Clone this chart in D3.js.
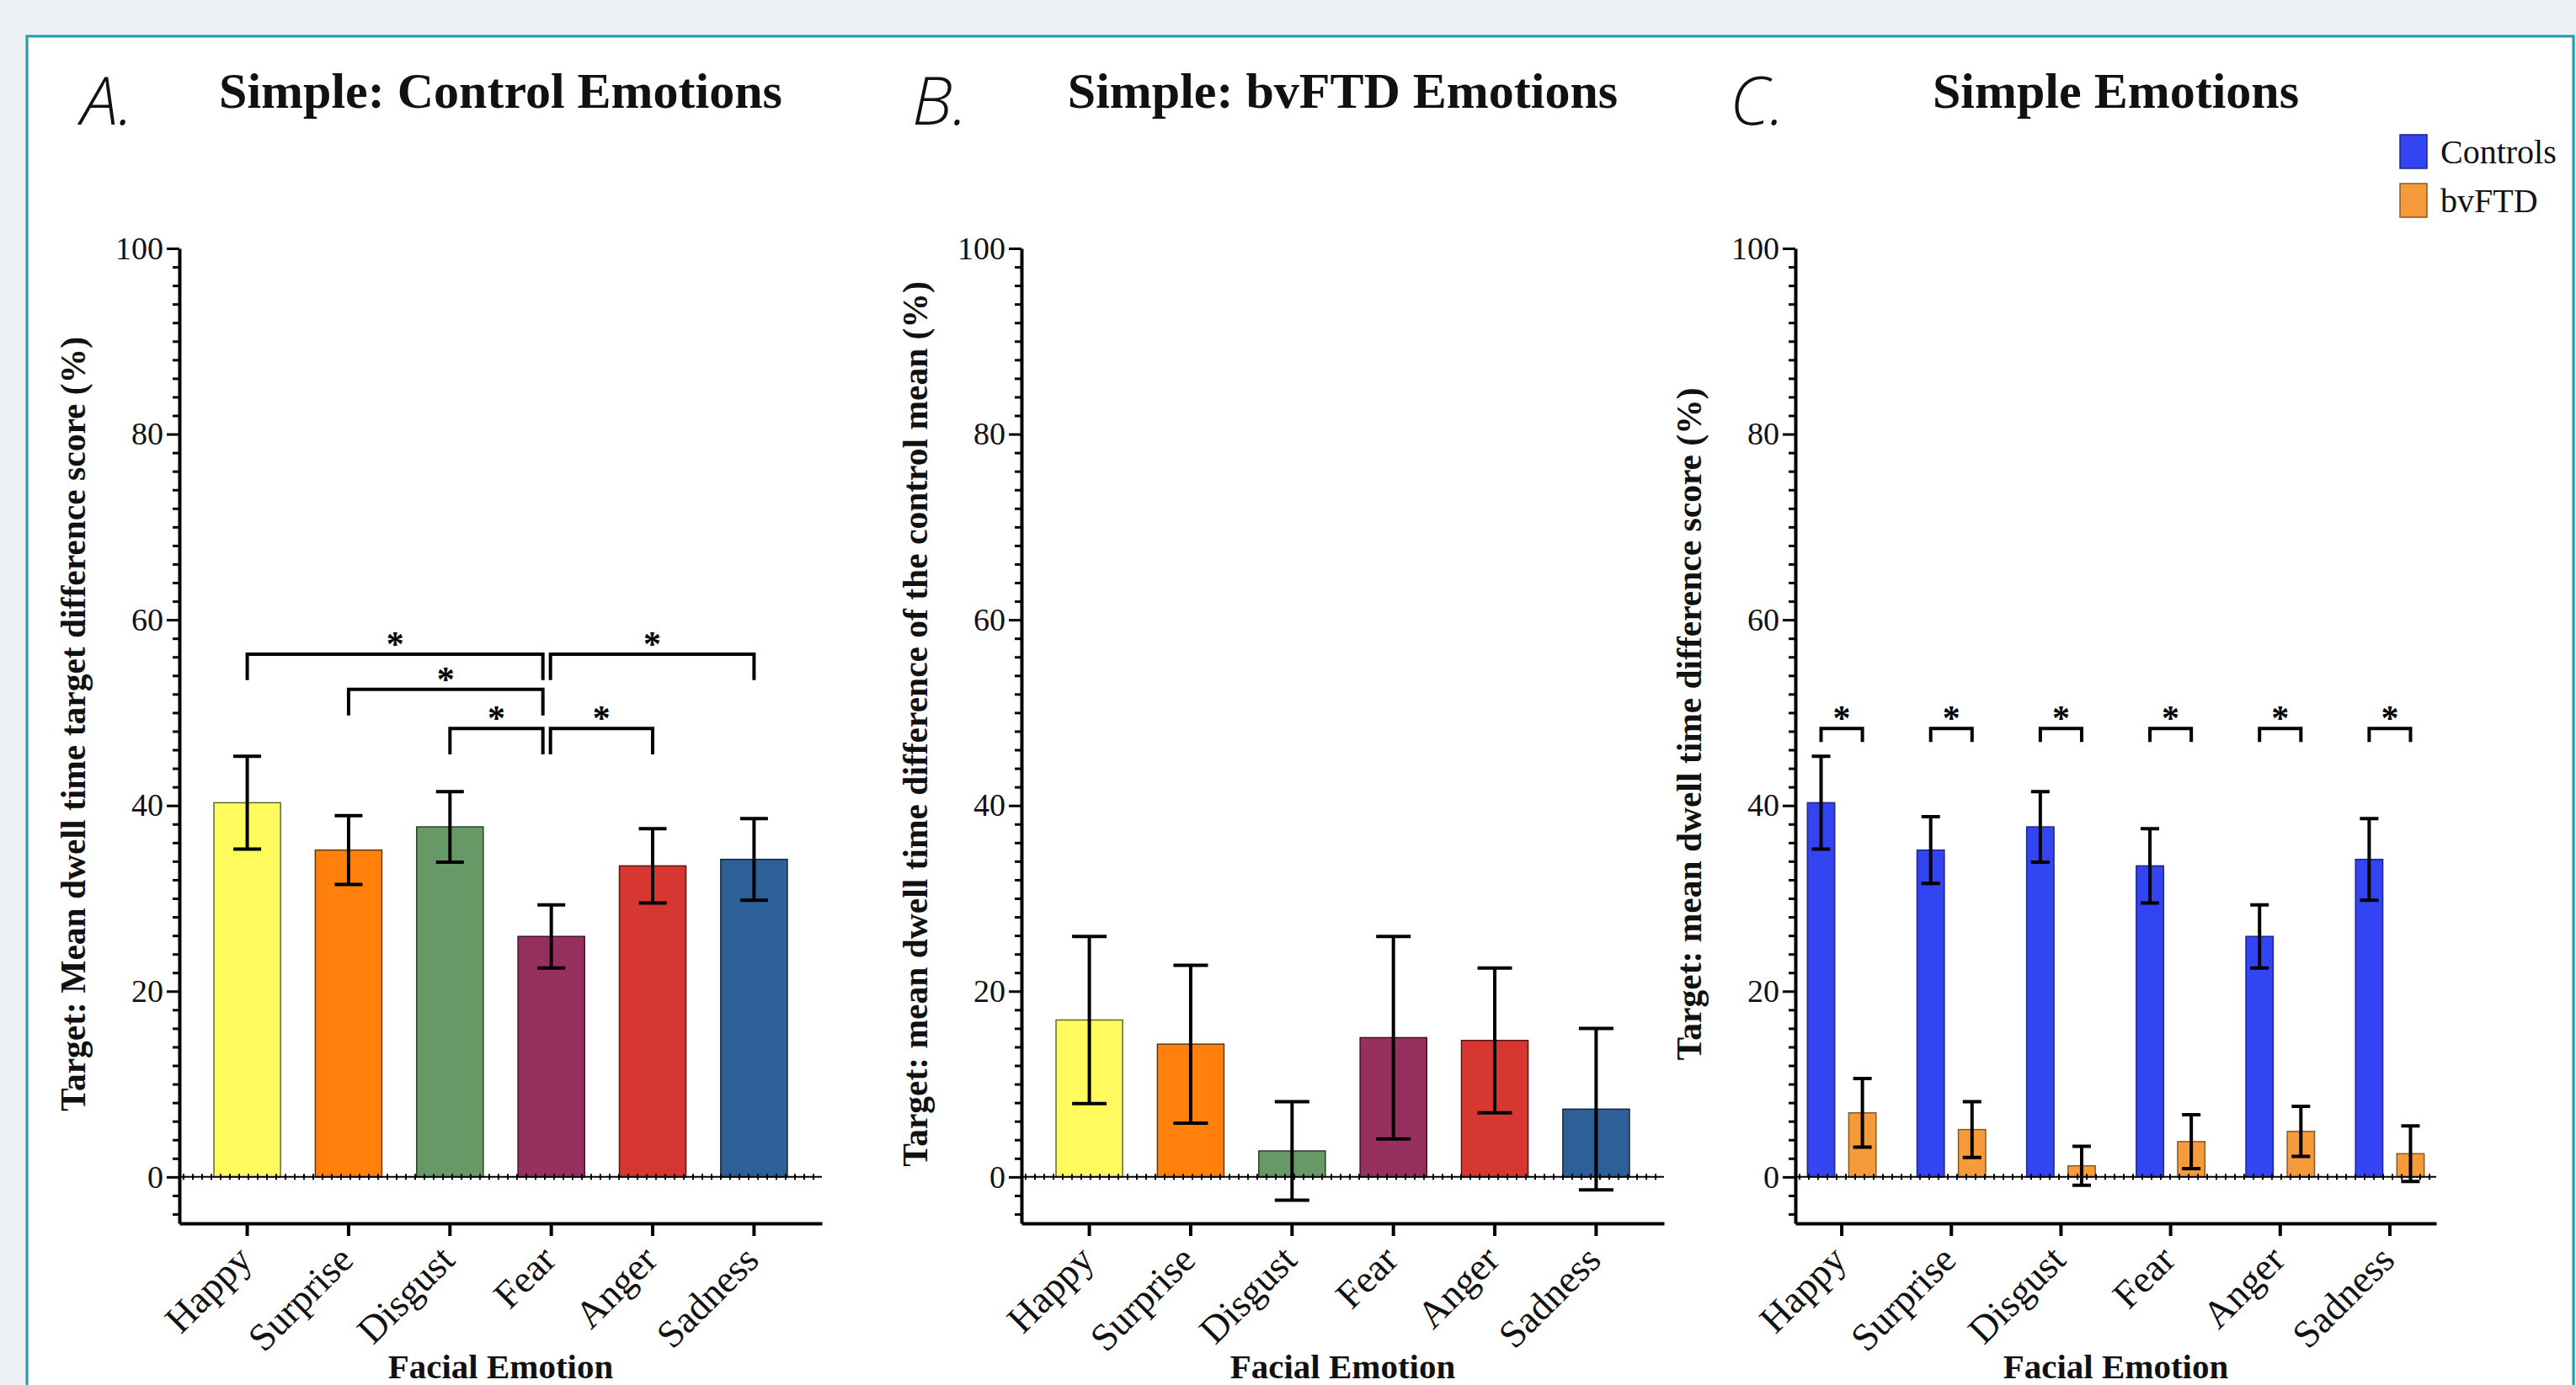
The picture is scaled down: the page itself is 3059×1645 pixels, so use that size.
<!DOCTYPE html>
<html><head><meta charset="utf-8">
<script src="https://cdn.jsdelivr.net/npm/d3@7"></script>
<style>
html,body{margin:0;padding:0;background:#edf0f5;overflow:hidden;}
svg{display:block;}
</style></head><body>
<svg id="chart" width="3059" height="1645"></svg>
<script>
// ---------------- data ----------------
const emotions = ["Happy", "Surprise", "Disgust", "Fear", "Anger", "Sadness"];
const emotionColors = ["#FFFB5E", "#FF800A", "#679966", "#96305F", "#D63731", "#2D5F98"];

// Panel A: Simple: Control Emotions
const controlMeans = [40.3, 35.2, 37.7, 25.9, 33.5, 34.2];
const controlErrors = [5.0, 3.7, 3.8, 3.4, 4.0, 4.4];
const controlComparisons = [
  ["Happy", "Fear", 56.3],
  ["Fear", "Sadness", 56.3],
  ["Surprise", "Fear", 52.5],
  ["Disgust", "Fear", 48.3],
  ["Fear", "Anger", 48.3]
];

// Panel B: Simple: bvFTD Emotions
const bvftdMeans = [16.9, 14.3, 2.8, 15.0, 14.7, 7.3];
const bvftdErrors = [9.0, 8.5, 5.3, 10.9, 7.8, 8.7];

// Panel C: Simple Emotions (grouped)
const groups = ["Controls", "bvFTD"];
const groupColors = ["#3344F2", "#F59B3B"];
const groupControlMeans = [40.3, 35.2, 37.7, 33.5, 25.9, 34.2];
const groupControlErrors = [5.0, 3.6, 3.8, 4.0, 3.4, 4.4];
const groupBvftdMeans = [6.9, 5.1, 1.2, 3.8, 4.9, 2.5];
const groupBvftdErrors = [3.7, 3.0, 2.1, 2.9, 2.7, 3.0];
const groupComparisonLevel = 48.3;

const yTicks = [0, 20, 40, 60, 80, 100];
const yMinorTicks = [-4, -2, 2, 4, 6, 8, 10, 12, 14, 16, 18, 22, 24, 26, 28, 30, 32, 34, 36, 38,
  42, 44, 46, 48, 50, 52, 54, 56, 58, 62, 64, 66, 68, 70, 72, 74, 76, 78, 82, 84, 86, 88, 90, 92, 94, 96, 98];

const panelLetters = ["A.", "B.", "C."];
const panelTitles = ["Simple: Control Emotions", "Simple: bvFTD Emotions", "Simple Emotions"];
const yTitles = [
  "Target: Mean dwell time target difference score (%)",
  "Target: mean dwell time difference of the control mean (%)",
  "Target: mean dwell time difference score (%)"
];
const xTitle = "Facial Emotion";

// ---------------- drawing ----------------
const SERIF = "'Liberation Serif','Times New Roman',serif";
const svg = d3.select("#chart");

svg.append("rect").attr("x", 32).attr("y", 43).attr("width", 3024).attr("height", 1650)
  .attr("fill", "#ffffff").attr("stroke", "#2199a6").attr("stroke-width", 3);

const y = d3.scaleLinear().domain([-5, 100]).range([1453, 295]);

const panels = [
  {x0: 213, x1: 976, letterX: 96, ylabX: 101},
  {x0: 1213, x1: 1976, letterX: 1083, ylabX: 1101},
  {x0: 2132, x1: 2893, letterX: 2054, ylabX: 2020}
];

function drawFrame(p, i, xScale) {
  const g = svg.append("g");
  // y axis major
  const gy = g.append("g").attr("transform", `translate(${p.x0},0)`)
    .call(d3.axisLeft(y).tickValues(yTicks).tickSize(15).tickSizeOuter(0).tickPadding(4));
  gy.select(".domain").attr("stroke", "#000").attr("stroke-width", 4);
  gy.selectAll(".tick line").attr("stroke", "#000").attr("stroke-width", 3);
  gy.selectAll(".tick text").attr("font-family", SERIF).attr("font-size", 38).attr("fill", "#111");
  // y axis minor
  const gm = g.append("g").attr("transform", `translate(${p.x0},0)`)
    .call(d3.axisLeft(y).tickValues(yMinorTicks).tickSize(8).tickFormat(""));
  gm.select(".domain").remove();
  gm.selectAll(".tick line").attr("stroke", "#000").attr("stroke-width", 3);
  // x axis
  const gx = g.append("g").attr("transform", `translate(0,${y(-5)})`)
    .call(d3.axisBottom(xScale).tickSize(15).tickSizeOuter(0));
  gx.select(".domain").attr("stroke", "#000").attr("stroke-width", 4);
  gx.selectAll(".tick line").attr("stroke", "#000").attr("stroke-width", 4);
  gx.selectAll(".tick text")
    .attr("font-family", SERIF).attr("font-size", 46).attr("fill", "#111")
    .attr("text-anchor", "end").attr("x", 0).attr("y", 0).attr("dy", 0)
    .attr("transform", "translate(8,46) rotate(-45)");
  // titles
  svg.append("text").attr("x", (p.x0 + p.x1) / 2).attr("y", 128)
    .attr("text-anchor", "middle").attr("font-family", SERIF).attr("font-weight", "bold")
    .attr("font-size", 60).attr("fill", "#111").text(panelTitles[i]);
  svg.append("text").attr("x", p.letterX).attr("y", 148)
    .attr("font-family", "'Open Sans',sans-serif").attr("font-style", "italic").attr("font-weight", 300)
    .attr("font-size", 80).attr("fill", "#111").text(panelLetters[i]);
  svg.append("text").attr("transform", `translate(${p.ylabX},860) rotate(-90)`)
    .attr("text-anchor", "middle").attr("font-family", SERIF).attr("font-weight", "bold")
    .attr("font-size", 41.5).attr("fill", "#111").text(yTitles[i]);
  svg.append("text").attr("x", (p.x0 + p.x1) / 2).attr("y", 1637)
    .attr("text-anchor", "middle").attr("font-family", SERIF).attr("font-weight", "bold")
    .attr("font-size", 41).attr("fill", "#111").text(xTitle);
}

function drawZero(p) {
  svg.append("line").attr("x1", p.x0).attr("x2", p.x1).attr("y1", y(0)).attr("y2", y(0))
    .attr("stroke", "#000").attr("stroke-width", 2);
  svg.append("line").attr("x1", p.x0 + 4).attr("x2", p.x1).attr("y1", y(0)).attr("y2", y(0))
    .attr("stroke", "#000").attr("stroke-width", 7).attr("stroke-dasharray", "2,9");
}

function errorBar(g, cx, m, e, half) {
  const path = `M${cx - half},${y(m + e)}H${cx + half}M${cx},${y(m + e)}V${y(m - e)}M${cx - half},${y(m - e)}H${cx + half}`;
  g.append("path").attr("d", path).attr("fill", "none").attr("stroke", "#000").attr("stroke-width", 4);
}

function bracket(g, xa, xb, level, drop) {
  g.append("path")
    .attr("d", `M${xa},${y(level - drop)}V${y(level)}H${xb}V${y(level - drop)}`)
    .attr("fill", "none").attr("stroke", "#000").attr("stroke-width", 4);
  g.append("text").attr("x", (xa + xb) / 2).attr("y", y(level) + 2)
    .attr("text-anchor", "middle").attr("font-family", SERIF).attr("font-weight", "bold")
    .attr("font-size", 42).attr("fill", "#000").text("*");
}

// ---- Panels A & B ----
function simplePanel(p, i, means, errs, capHalf, comparisons) {
  const x = d3.scaleBand().domain(emotions).range([p.x0, p.x1]).paddingInner(0.343).paddingOuter(0.341);
  drawFrame(p, i, x);
  const g = svg.append("g");
  g.selectAll("rect").data(emotions).join("rect")
    .attr("x", d => x(d)).attr("width", x.bandwidth())
    .attr("y", (d, k) => y(Math.max(0, means[k])))
    .attr("height", (d, k) => Math.abs(y(0) - y(means[k])))
    .attr("fill", (d, k) => emotionColors[k])
    .attr("stroke", (d, k) => d3.color(emotionColors[k]).darker(2.5))
    .attr("stroke-width", 1.5);
  drawZero(p);
  emotions.forEach((d, k) => errorBar(g, x(d) + x.bandwidth() / 2, means[k], errs[k], capHalf));
  if (comparisons) {
    const c = d => x(d) + x.bandwidth() / 2;
    const pivot = "Fear";
    comparisons.forEach(([a, b, lvl]) => {
      const xa = c(a) - (a === pivot ? 1 : 0);
      const xb = c(b) - (b === pivot ? 10 : 0);
      bracket(g, xa, xb, lvl, 2.8);
    });
  }
}

simplePanel(panels[0], 0, controlMeans, controlErrors, 16.5, controlComparisons);
simplePanel(panels[1], 1, bvftdMeans, bvftdErrors, 20.5, null);

// ---- Panel C ----
(function () {
  const p = panels[2];
  const x = d3.scaleBand().domain(emotions).range([p.x0, p.x1]).paddingInner(0.374).paddingOuter(0.11);
  const xi = d3.scaleBand().domain(groups).range([0, x.bandwidth()]).paddingInner(0.34);
  drawFrame(p, 2, x);
  const g = svg.append("g");
  const series = [
    {means: groupControlMeans, errs: groupControlErrors},
    {means: groupBvftdMeans, errs: groupBvftdErrors}
  ];
  series.forEach((s, gi) => {
    g.append("g").selectAll("rect").data(emotions).join("rect")
      .attr("x", d => x(d) + xi(groups[gi])).attr("width", xi.bandwidth())
      .attr("y", (d, k) => y(s.means[k]))
      .attr("height", (d, k) => y(0) - y(s.means[k]))
      .attr("fill", groupColors[gi])
      .attr("stroke", d3.color(groupColors[gi]).darker(1.6))
      .attr("stroke-width", 1.5);
  });
  drawZero(p);
  series.forEach((s, gi) => {
    emotions.forEach((d, k) => errorBar(g, x(d) + xi(groups[gi]) + xi.bandwidth() / 2, s.means[k], s.errs[k], 11));
  });
  emotions.forEach(d => {
    const xa = x(d) + xi(groups[0]) + xi.bandwidth() / 2;
    const xb = x(d) + xi(groups[1]) + xi.bandwidth() / 2;
    bracket(g, xa, xb, groupComparisonLevel, 1.45);
  });
  // legend
  const lg = svg.append("g");
  groups.forEach((name, gi) => {
    const yy = 160 + gi * 58;
    lg.append("rect").attr("x", 2850).attr("y", yy).attr("width", 32).attr("height", 40)
      .attr("fill", groupColors[gi]).attr("stroke", d3.color(groupColors[gi]).darker(1.6)).attr("stroke-width", 1.5);
    lg.append("text").attr("x", 2898).attr("y", yy + 20).attr("dy", "0.35em")
      .attr("font-family", SERIF).attr("font-size", 40).attr("fill", "#111").text(name);
  });
})();
</script>
</body></html>
